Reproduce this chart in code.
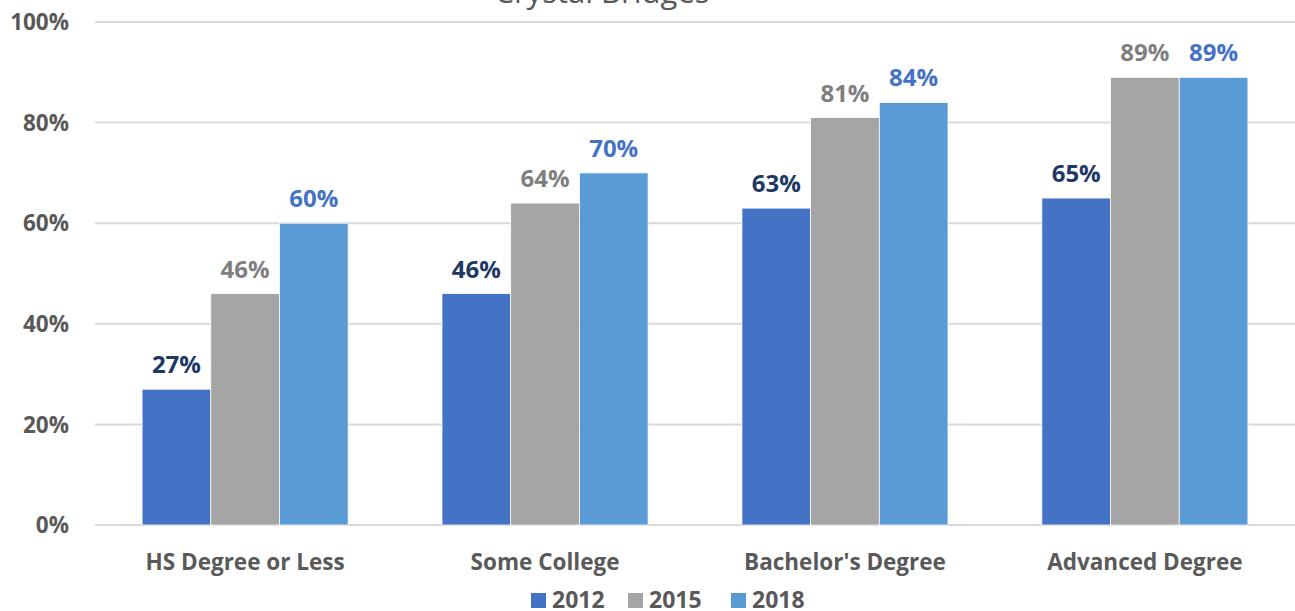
<!DOCTYPE html>
<html>
<head>
<meta charset="utf-8">
<script src="https://cdn.jsdelivr.net/npm/d3@7"></script>
<style>
  body { margin: 0; background: #fff; }
  text { font-family: "Open Sans", "Noto Sans", sans-serif; }
</style>
</head>
<body>
<div class="container"></div>
<script>
const categories = ["HS Degree or Less", "Some College", "Bachelor's Degree", "Advanced Degree"];
const years = ["2012", "2015", "2018"];
const values2012 = [27, 46, 63, 65];
const values2015 = [46, 64, 81, 89];
const values2018 = [60, 70, 84, 89];
const yTicks = [0, 20, 40, 60, 80, 100];

const barColors = ["#4472c4", "#a5a5a5", "#5b9bd5"];
const labelColors = ["#203864", "#7f7f7f", "#4472c4"];

const width = 1295;
const height = 611;
const margin = { left: 95, right: 0, top: 22, bottom: 86 };

const series = [values2012, values2015, values2018];

const svg = d3
  .create("svg")
  .attr("width", width)
  .attr("height", height)
  .style("display", "block");

const x = d3
  .scaleBand()
  .domain(categories)
  .range([margin.left, width - margin.right])
  .paddingInner(0.313)
  .paddingOuter(0.157);

const xInner = d3
  .scaleBand()
  .domain(years)
  .range([0, x.bandwidth()]);

const y = d3
  .scaleLinear()
  .domain([0, 100])
  .range([height - margin.bottom, margin.top]);

// title (cut off at top)
svg
  .append("text")
  .attr("x", 602)
  .attr("y", 3)
  .attr("text-anchor", "middle")
  .attr("fill", "#595959")
  .style("font-size", "31px")
  .text("Crystal Bridges");

// gridlines
svg
  .append("g")
  .selectAll("line")
  .data(yTicks)
  .join("line")
  .attr("x1", margin.left)
  .attr("x2", width - margin.right)
  .attr("y1", (d) => y(d))
  .attr("y2", (d) => y(d))
  .attr("stroke", "#d9d9d9")
  .attr("stroke-width", 2);

// y labels
svg
  .append("g")
  .selectAll("text")
  .data(yTicks)
  .join("text")
  .attr("x", 69)
  .attr("y", (d) => y(d))
  .attr("dy", "0.36em")
  .attr("text-anchor", "end")
  .attr("fill", "#595959")
  .style("font-size", "22.5px")
  .style("font-weight", "bold")
  .text((d) => d + "%");

// bars
const groups = svg
  .append("g")
  .selectAll("g")
  .data(categories)
  .join("g")
  .attr("transform", (d) => `translate(${x(d)},0)`);

groups
  .selectAll("rect")
  .data((d, i) => years.map((yr, j) => ({ yr, j, v: series[j][i] })))
  .join("rect")
  .attr("x", (d) => xInner(d.yr))
  .attr("y", (d) => y(d.v))
  .attr("width", xInner.bandwidth())
  .attr("height", (d) => y(0) - y(d.v))
  .attr("fill", (d) => barColors[d.j])
  .attr("stroke", "#ffffff")
  .attr("stroke-width", 0.75);

groups
  .selectAll("text")
  .data((d, i) => years.map((yr, j) => ({ yr, j, v: series[j][i] })))
  .join("text")
  .attr("x", (d) => xInner(d.yr) + xInner.bandwidth() / 2)
  .attr("y", (d) => y(d.v) - 16)
  .attr("text-anchor", "middle")
  .attr("fill", (d) => labelColors[d.j])
  .style("font-size", "24px")
  .style("font-weight", "bold")
  .text((d) => d.v + "%");

// category labels
svg
  .append("g")
  .selectAll("text")
  .data(categories)
  .join("text")
  .attr("x", (d) => x(d) + x.bandwidth() / 2)
  .attr("y", 570)
  .attr("text-anchor", "middle")
  .attr("fill", "#595959")
  .style("font-size", "22.5px")
  .style("font-weight", "bold")
  .text((d) => d);

// legend
const legendX = [531, 628, 731];
const legend = svg
  .append("g")
  .selectAll("g")
  .data(years)
  .join("g")
  .attr("transform", (d, i) => `translate(${legendX[i]},593)`);

legend
  .append("rect")
  .attr("width", 15)
  .attr("height", 15)
  .attr("fill", (d, i) => barColors[i]);

legend
  .append("text")
  .attr("x", 21)
  .attr("y", 15)
  .attr("fill", "#595959")
  .style("font-size", "23px")
  .style("font-weight", "bold")
  .text((d) => d);

document.querySelector(".container").append(svg.node());
</script>
</body>
</html>
